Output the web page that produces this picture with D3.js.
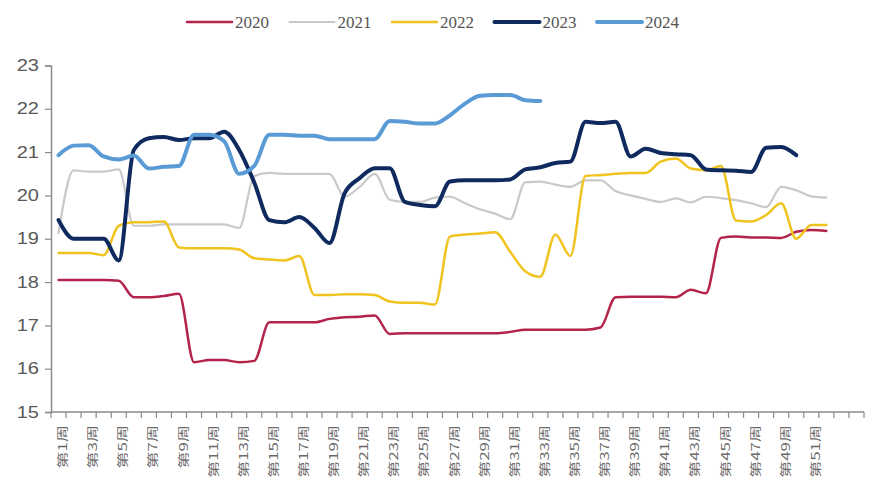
<!DOCTYPE html>
<html><head><meta charset="utf-8">
<script src="https://cdn.jsdelivr.net/npm/d3@7"></script>
<style>body{margin:0;background:#fff;} svg{display:block;}</style>
</head><body>
<svg id="c" width="872" height="480"></svg>
<script>
const weeks = ["第1周","第2周","第3周","第4周","第5周","第6周","第7周","第8周","第9周","第10周",
"第11周","第12周","第13周","第14周","第15周","第16周","第17周","第18周","第19周","第20周",
"第21周","第22周","第23周","第24周","第25周","第26周","第27周","第28周","第29周","第30周",
"第31周","第32周","第33周","第34周","第35周","第36周","第37周","第38周","第39周","第40周",
"第41周","第42周","第43周","第44周","第45周","第46周","第47周","第48周","第49周","第50周",
"第51周","第52周","",""];
const yTicks = [15,16,17,18,19,20,21,22,23];
const seriesNames = ["2020","2021","2022","2023","2024"];
const v2020 = [18.05,18.05,18.05,18.05,18.03,17.65,17.65,17.68,17.73,16.15,16.2,16.2,16.15,16.18,17.07,17.07,17.07,17.07,17.15,17.19,17.2,17.23,16.8,16.82,16.82,16.82,16.82,16.82,16.82,16.82,16.85,16.9,16.9,16.9,16.9,16.9,16.95,17.65,17.66,17.66,17.66,17.65,17.82,17.74,19.02,19.05,19.03,19.03,19.02,19.16,19.2,19.18];
const v2021 = [19.13,20.58,20.55,20.55,20.6,19.3,19.3,19.33,19.33,19.33,19.33,19.33,19.25,20.45,20.52,20.5,20.5,20.5,20.5,19.97,20.2,20.5,19.9,19.85,19.85,19.95,19.97,19.82,19.68,19.58,19.45,20.3,20.32,20.25,20.2,20.35,20.35,20.1,20.0,19.92,19.85,19.93,19.84,19.97,19.94,19.89,19.82,19.73,20.2,20.12,19.98,19.95];
const v2022 = [18.67,18.67,18.67,18.62,19.3,19.38,19.38,19.4,18.8,18.78,18.78,18.78,18.75,18.55,18.52,18.5,18.6,17.7,17.7,17.72,17.72,17.7,17.55,17.52,17.52,17.48,19.05,19.1,19.12,19.15,18.7,18.25,18.12,19.1,18.6,20.45,20.47,20.5,20.52,20.52,20.78,20.85,20.62,20.58,20.68,19.42,19.4,19.55,19.82,19.0,19.32,19.32];
const v2023 = [19.43,19.0,19.0,19.0,18.5,21.05,21.32,21.35,21.28,21.32,21.32,21.47,21.05,20.3,19.43,19.38,19.5,19.25,18.9,20.05,20.4,20.63,20.63,19.85,19.78,19.75,20.32,20.35,20.35,20.35,20.37,20.6,20.65,20.75,20.78,21.7,21.67,21.7,20.9,21.08,20.98,20.95,20.93,20.6,20.58,20.57,20.54,21.1,21.12,20.93];
const v2024 = [20.93,21.15,21.16,20.9,20.83,20.92,20.62,20.66,20.68,21.4,21.4,21.25,20.5,20.68,21.4,21.4,21.38,21.38,21.3,21.3,21.3,21.3,21.72,21.7,21.66,21.66,21.85,22.12,22.3,22.32,22.32,22.2,22.18];
const colors = ["#B3234B","#C9C9C9","#F0C31E","#0E2A5E","#5B9BD5"];
const widths = [2.5,2.2,2.5,4,4];

const svg = d3.select("#c");
const x = d3.scaleBand().domain(d3.range(weeks.length)).range([51, 864]);
const y = d3.scaleLinear().domain([15,23]).range([412, 65.5]);
const axisColor = "#8a8a8a";

// y axis
const ya = svg.append("g").attr("transform","translate(51,0)")
  .call(d3.axisLeft(y).tickValues(yTicks).tickSize(6).tickPadding(6).tickFormat(d3.format("d")));
ya.select(".domain").attr("stroke",axisColor).attr("stroke-width",1.5);
ya.selectAll(".tick line").attr("stroke",axisColor).attr("stroke-width",1.2);
ya.selectAll(".tick text").attr("fill","#595959").attr("font-family","'Liberation Sans',Arial,sans-serif")
  .attr("font-size",16);
ya.selectAll(".tick text").each(function(){
  const t=d3.select(this); const tx=+t.attr("x");
  t.attr("transform","translate("+(tx)+",0) scale(1.25,1) translate("+(-tx)+",0)");
});

// x axis
const xa = svg.append("g").attr("transform","translate(0,412)");
xa.append("line").attr("x1",51).attr("x2",864).attr("y1",0).attr("y2",0).attr("stroke",axisColor).attr("stroke-width",1.5);
const bounds = d3.range(weeks.length+1).map(i=> i<weeks.length ? x(i) : x(weeks.length-1)+x.bandwidth());
xa.selectAll("line.tk").data(bounds).join("line").attr("class","tk")
  .attr("x1",d=>d).attr("x2",d=>d).attr("y1",0).attr("y2",6).attr("stroke",axisColor).attr("stroke-width",1.2);
xa.selectAll("text").data(weeks.map((w,i)=>({w,i})).filter(d=>d.w && d.i%2===0)).join("text")
  .attr("transform",d=>"translate("+(x(d.i)+x.bandwidth()/2+4.5)+",13) rotate(-90) scale(1,0.68)")
  .attr("text-anchor","end").attr("dy","0.35em")
  .attr("font-family","'Noto Sans CJK SC','Liberation Sans',sans-serif").attr("font-size",17)
  .attr("fill","#6a6a6a").text(d=>d.w);

// lines
const all = [v2020,v2021,v2022,v2023,v2024];
const line = d3.line().x((d,i)=>x(i)+x.bandwidth()/2).y(d=>y(d)).curve(d3.curveMonotoneX);
all.forEach((vals,k)=>{
  svg.append("path").datum(vals).attr("fill","none").attr("stroke",colors[k])
    .attr("stroke-width",widths[k]).attr("stroke-linejoin","round").attr("stroke-linecap","round")
    .attr("d",line);
});

// legend
const lg = svg.append("g");
seriesNames.forEach((n,k)=>{
  const x0 = 187 + k*102.5;
  lg.append("line").attr("x1",x0).attr("x2",x0+45).attr("y1",22).attr("y2",22)
    .attr("stroke",colors[k]).attr("stroke-width",widths[k]).attr("stroke-linecap","round");
  lg.append("text").attr("x",x0+48).attr("y",22).attr("dy","0.35em")
    .attr("font-family","'Liberation Serif','Times New Roman',serif").attr("font-size",17)
    .attr("fill","#555555").text(n);
});
</script>
</body></html>
